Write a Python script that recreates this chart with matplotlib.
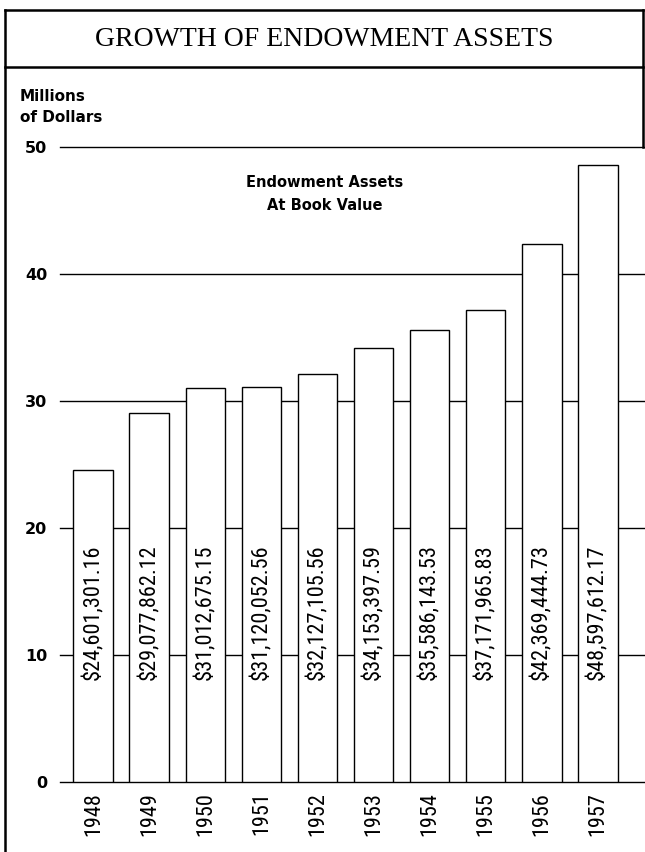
import matplotlib
matplotlib.use("Agg")
import matplotlib.pyplot as plt
from matplotlib.lines import Line2D
from matplotlib import font_manager

years = ["1948", "1949", "1950", "1951", "1952", "1953", "1954", "1955", "1956", "1957"]
assets = [24601301.16, 29077862.12, 31012675.15, 31120052.56, 32127105.56,
          34153397.59, 35586143.53, 37171965.83, 42369444.73, 48597612.17]
yticks = [0, 10, 20, 30, 40, 50]
title = "GROWTH OF ENDOWMENT ASSETS"
ylabel_lines = ["Millions", "of Dollars"]
note_lines = ["Endowment Assets", "At Book Value"]

# pick a narrow sans if one is installed
installed = {f.name for f in font_manager.fontManager.ttflist}
narrow_font = None
for cand in ["Liberation Sans Narrow", "DejaVu Sans Condensed", "Roboto Condensed",
             "Open Sans Condensed", "Noto Sans Condensed"]:
    if cand in installed:
        narrow_font = cand
        break
if narrow_font is not None:
    rot_family, rot_size = [narrow_font, "DejaVu Sans"], 16
else:
    rot_family, rot_size = ["Roboto", "DejaVu Sans"], 13.4

W, H = 645, 852
fig = plt.figure(figsize=(W / 100, H / 100), dpi=100)

def fx(px):
    return px / W

def fy(py):
    return 1 - py / H

ax_left, ax_right, ax_top, ax_bottom = 60, 645, 147, 782
ax = fig.add_axes([fx(ax_left), fy(ax_bottom), fx(ax_right - ax_left), (ax_bottom - ax_top) / H])

x = list(range(len(years)))
heights = [v / 1e6 for v in assets]

for t in yticks:
    ax.axhline(t, color="black", lw=1.0, zorder=1, clip_on=False)

ax.bar(x, heights, width=0.714, color="white", edgecolor="black", linewidth=1.0, zorder=2)

for xi, v in zip(x, assets):
    ax.text(xi, 8.0, f"${v:,.2f}", rotation=90, ha="center", va="bottom",
            fontsize=rot_size, family=rot_family, zorder=3)

ax.set_xlim(-0.598, 9.848)
ax.set_ylim(0, 50)
ax.set_xticks(x)
ax.set_xticklabels(years, rotation=90, fontsize=rot_size, family=rot_family)
ax.set_yticks(yticks)
ax.set_yticklabels([str(t) for t in yticks], fontsize=11.5, fontweight="bold", family="DejaVu Sans")
ax.tick_params(axis="both", length=0)
ax.tick_params(axis="y", pad=9)
ax.tick_params(axis="x", pad=7)
for s in ax.spines.values():
    s.set_visible(False)
ax.patch.set_alpha(0)

ax.text(4.13, 47.2, note_lines[0], ha="center", va="center", fontsize=10.5,
        fontweight="bold", family="DejaVu Sans")
ax.text(4.13, 45.4, note_lines[1], ha="center", va="center", fontsize=10.5,
        fontweight="bold", family="DejaVu Sans")

# frame lines
lw_frame = 1.8
fig.add_artist(Line2D([fx(5), fx(643)], [fy(10), fy(10)], color="black", lw=lw_frame))
fig.add_artist(Line2D([fx(5), fx(643)], [fy(67), fy(67)], color="black", lw=lw_frame))
fig.add_artist(Line2D([fx(5), fx(5)], [fy(10), fy(852)], color="black", lw=lw_frame))
fig.add_artist(Line2D([fx(643), fx(643)], [fy(10), fy(147)], color="black", lw=lw_frame))

fig.text(fx(324), fy(40), title, ha="center", va="center", fontsize=20,
         family="Liberation Serif")
fig.text(fx(20), fy(101), ylabel_lines[0], ha="left", va="baseline", fontsize=11,
         fontweight="bold", family="DejaVu Sans")
fig.text(fx(20), fy(122), ylabel_lines[1], ha="left", va="baseline", fontsize=11,
         fontweight="bold", family="DejaVu Sans")

fig.savefig("out.png", dpi=100, facecolor="white")
